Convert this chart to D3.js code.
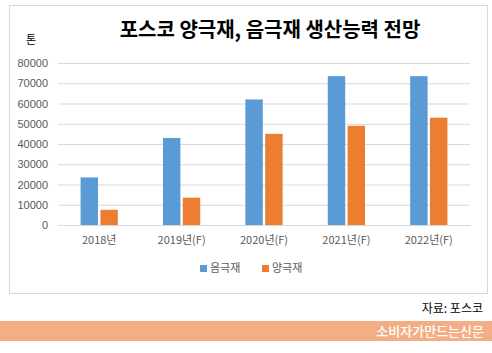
<!DOCTYPE html>
<html>
<head>
<meta charset="utf-8">
<script src="https://cdn.jsdelivr.net/npm/d3@7"></script>
<style>
body{margin:0;background:#fff;font-family:"Noto Sans CJK KR","Noto Sans",sans-serif;}
</style>
</head>
<body>
<div id="chart"></div>
<script>
const categories = ['2018년', '2019년(F)', '2020년(F)', '2021년(F)', '2022년(F)'];
const seriesNames = ['음극재', '양극재'];
const anode = [23500, 43000, 62000, 73500, 73500];
const cathode = [7500, 13500, 45000, 49000, 53000];
const yTicks = [0, 10000, 20000, 30000, 40000, 50000, 60000, 70000, 80000];
const colors = ['#5B9BD5', '#ED7D31'];

const W = 492, H = 353;
const margin = {t:63, r:22, b:128, l:58};
const w = W - margin.l - margin.r;
const h = H - margin.t - margin.b;

const svg = d3.select('#chart').append('svg')
	.attr('width', W).attr('height', H);

// frame
svg.append('rect')
	.attr('x', 9.5).attr('y', 5.5).attr('width', 478).attr('height', 288)
	.style('fill', '#fff').style('stroke', '#d9d9d9');

svg.append('text')
	.attr('x', 270).attr('y', 37)
	.attr('text-anchor', 'middle')
	.style('font-size', '20px').style('font-weight', 'bold')
	.text('포스코 양극재, 음극재 생산능력 전망');

svg.append('text')
	.attr('x', 31).attr('y', 44)
	.attr('text-anchor', 'middle')
	.style('font-size', '11px')
	.text('톤');

const plot = svg.append('g')
	.attr('transform', `translate(${margin.l}, ${margin.t})`);

const scaleX = d3.scaleBand().domain(categories).range([0, w]);
const scaleY = d3.scaleLinear().domain([0, 80000]).range([h, 0]);
const scaleSub = d3.scaleBand().domain(seriesNames).range([0, 42]).padding(0.12);

const axisY = d3.axisLeft(scaleY).tickValues(yTicks).tickFormat(d3.format('d')).tickSize(-w).tickPadding(10);
plot.append('g')
	.attr('class', 'axis axis-y')
	.call(axisY)
	.call(g => g.select('.domain').remove())
	.call(g => g.selectAll('line').style('stroke', '#d9d9d9'))
	.call(g => g.selectAll('text').style('font-size', '11px').style('fill', '#595959')
		.style('font-family', '"Liberation Sans", Arial, sans-serif'));

const axisX = d3.axisBottom(scaleX).tickSize(0).tickPadding(11);
plot.append('g')
	.attr('class', 'axis axis-x')
	.attr('transform', `translate(0, ${h})`)
	.call(axisX)
	.call(g => g.select('.domain').style('stroke', '#d9d9d9'))
	.call(g => g.selectAll('text').style('font-size', '11px').style('fill', '#595959')
		.style('font-family', '"Noto Sans CJK KR", sans-serif'));

const series = [anode, cathode];
series.forEach(function(vals, si){
	plot.append('g').selectAll('rect')
		.data(vals)
		.join('rect')
		.attr('x', (d,i) => scaleX(categories[i]) + scaleX.bandwidth()/2 - 21 + scaleSub(seriesNames[si]))
		.attr('y', d => scaleY(d))
		.attr('width', scaleSub.bandwidth())
		.attr('height', d => h - scaleY(d))
		.style('fill', colors[si]);
});

// legend
const legend = svg.append('g').attr('transform', 'translate(200, 272)');
seriesNames.forEach(function(name, i){
	const g = legend.append('g').attr('transform', `translate(${i*62}, 0)`);
	g.append('rect').attr('x', 0).attr('y', -7).attr('width', 7).attr('height', 7).style('fill', colors[i]);
	g.append('text').attr('x', 10).attr('y', 0).style('font-size', '11px').style('fill', '#595959').text(name);
});

svg.append('text')
	.attr('x', 483).attr('y', 313)
	.attr('text-anchor', 'end')
	.style('font-size', '12px')
	.text('자료: 포스코');

svg.append('rect')
	.attr('x', 0).attr('y', 321).attr('width', W).attr('height', 20)
	.style('fill', '#F3AE86');

svg.append('text')
	.attr('x', 484).attr('y', 336)
	.attr('text-anchor', 'end')
	.style('font-size', '13px').style('font-weight', '500').style('fill', '#fff')
	.text('소비자가만드는신문');
</script>
</body>
</html>
